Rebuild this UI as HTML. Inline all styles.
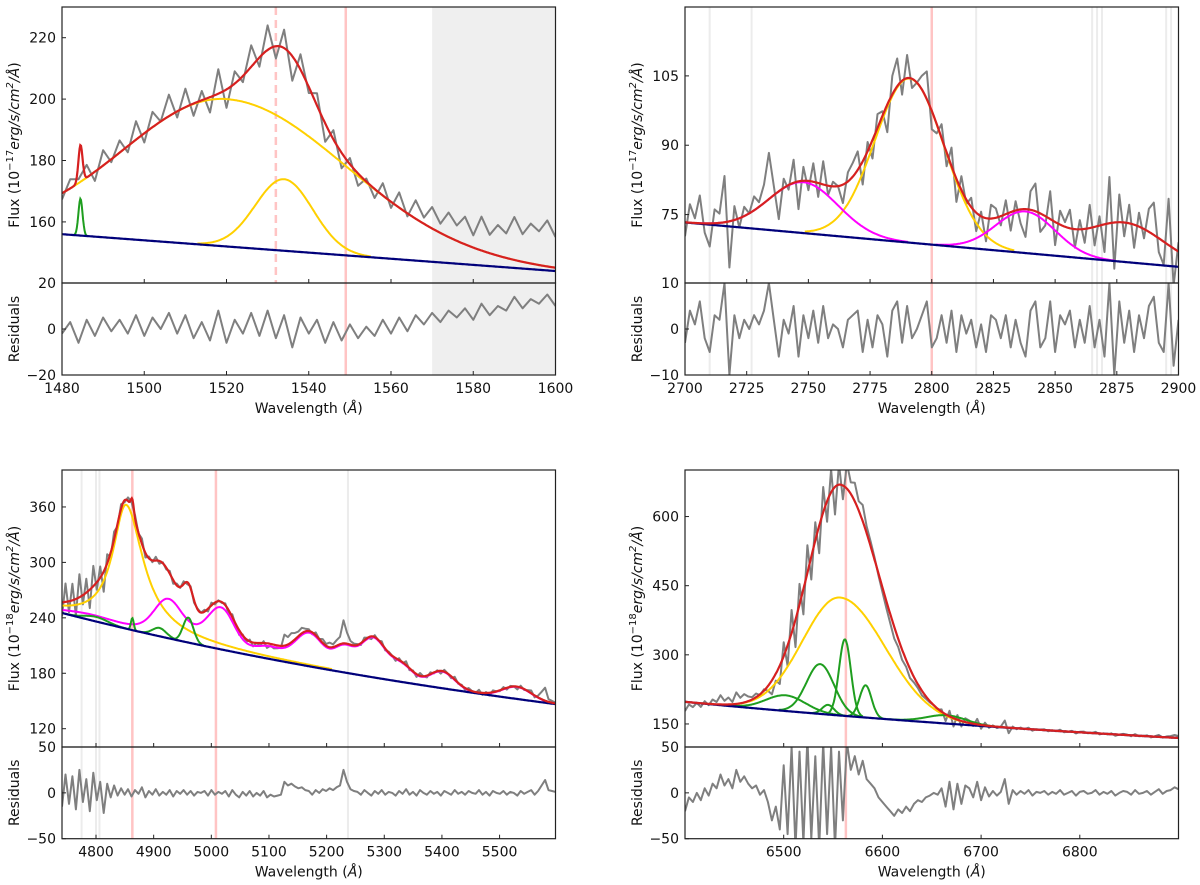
<!DOCTYPE html>
<html><head><meta charset="utf-8"><title>Spectral fits</title>
<style>html,body{margin:0;padding:0;background:#fff}svg{display:block;font-family:"DejaVu Sans","Liberation Sans",sans-serif}</style>
</head><body>
<svg id="fig" width="1200" height="885" viewBox="0 0 1200 885" xmlns="http://www.w3.org/2000/svg"></svg>
<script>
// ---------- Panel 1 (C IV region) ----------
const p1XRange=[1480,1600];
const p1Cont=[156,144];
const p1YellowCenters=[1520,1534];
const p1YellowAmps=[48,23.3];
const p1YellowSigL=[25,7];
const p1YellowSigR=[29,7];
const p1GreenCenters=[1484.5];
const p1GreenAmps=[12];
const p1GreenSigmas=[0.5];
const p1Residuals=[-2,3,-6,4,-3,5,-1,4,-2,6,-3,5,0,7,-2,6,-4,3,-5,8,-6,4,-2,7,-3,8,-4,6,-8,5,-2,4,-6,3,-5,2,-4,1,-3,4,-2,5,-1,6,2,7,3,8,5,9,4,11,6,10,8,14,9,13,11,15,10];
const p1XTicks=[1480,1500,1520,1540,1560,1580,1600];
const p1YTicks=[160,180,200,220];
const p1RTicks=[20,0,-20];
// ---------- Panel 2 (Mg II region) ----------
const p2XRange=[2700,2900];
const p2Cont=[73.3,63.7];
const p2YellowCenters=[2791];
const p2YellowAmps=[35.5];
const p2YellowSigmas=[14];
const p2MagentaCenters=[2748,2838];
const p2MagentaAmps=[11,9];
const p2MagentaSigmas=[14,12];
const p2HiddenCenters=[2878];
const p2HiddenAmps=[8.5];
const p2HiddenSigmas=[16];
const p2Residuals=[-3,4,1,6,-2,-5,3,2,10,-10,3,-2,2,0,3,1,4,10,2,-6,2,-1,5,-6,3,-2,4,-3,5,-2,1,0,-4,2,3,4,-5,2,-4,3,1,-6,4,6,-3,5,-2,0,3,6,-4,-2,3,-3,4,-5,3,-1,2,-4,1,-5,3,2,-2,3,-4,2,-3,-6,4,6,-4,-2,6,-5,3,1,4,-4,2,-3,5,-4,2,-6,10,-10,6,-3,4,-5,3,-2,5,7,-3,-5,10,-8,2];
const p2XTicks=[2700,2725,2750,2775,2800,2825,2850,2875,2900];
const p2YTicks=[75,90,105];
const p2RTicks=[10,0,-10];
// ---------- Panel 3 (H beta region) ----------
const p3XRange=[4741,5597];
const p3Cont=[208,5000,-3.1];
const p3YellowCenters=[4852];
const p3YellowAmps=[134];
const p3YellowGamL=[28];
const p3YellowGamR=[36];
const p3MagentaCenters=[4790,4924,4960,5018,5100,5170,5230,5280,5330,5400,5530];
const p3MagentaAmps=[6,30,15,36,12,36,25,42,18,18,13];
const p3MagentaSigmas=[45,22,60,22,25,25,18,22,20,22,25];
const p3GreenCenters=[4800,4863,4910,4960];
const p3GreenAmps=[5,13,9,27];
const p3GreenSigmas=[20,2.5,12,9];
const p3Residuals=[-15,20,-12,18,-18,25,-10,15,-20,22,-8,12,-22,10,-5,8,
-3,5,-2,4,-4,3,-1,6,-5,2,-2,4,-3,1,-2,3,-4,2,-1,3,-2,2,-3,1,0,
2,-3,3,-2,1,-1,2,-4,3,-2,-5,1,-3,2,-4,0,-3,2,-5,-2,-4,-3,
-2,12,8,10,7,5,6,3,
2,-2,3,0,4,2,5,3,6,8,
25,12,4,2,
1,-2,3,0,-3,2,-1,3,-2,1,0,-3,2,-1,4,-2,1,-3,3,0,-2,2,-1,1,-3,2,0,-2,3,-1,1,-2,2,0,-1,3,-2,1,-3,2,0,-1,2,-2,1,0,-3,2,-1,1,3,-2,2,8,14,3,
2,1];
const p3XTicks=[4800,4900,5000,5100,5200,5300,5400,5500];
const p3YTicks=[120,180,240,300,360];
const p3RTicks=[50,0,-50];
// ---------- Panel 4 (H alpha region) ----------
const p4XRange=[6400,6900];
const p4Cont=[198,6400,-6.7];
const p4YellowCenters=[6557];
const p4YellowAmps=[256];
const p4YellowSigL=[38];
const p4YellowSigR=[46];
const p4GreenCenters=[6502,6537,6545,6562,6583,6665];
const p4GreenAmps=[34,108,21,166,70,18];
const p4GreenSigmas=[20,14,6,6,6,20];
const p4HiddenCenters=[6557];
const p4HiddenAmps=[245];
const p4HiddenSigL=[29];
const p4HiddenSigR=[36];
const p4Residuals=[-20,-5,-10,0,-8,5,-3,10,5,20,8,15,5,
25,12,18,10,5,8,-2,3,-10,-30,-15,-40,
30,-45,50,-60,45,-55,60,-50,40,-60,55,-45,50,-60,45,-30,55,25,40,
20,35,15,10,5,-5,-10,
-15,-20,-25,-18,-22,-15,-20,-12,-8,-10,-5,-3,0,-2,
5,-15,12,-18,10,-12,8,5,-5,12,-8,6,-4,2,-3,1,
15,-12,3,-2,2,-1,3,-3,1,0,2,-2,1,-1,3,-2,0,2,-3,1,2,-1,0,3,-2,1,-1,2,-3,0,2,1,-2,3,-1,0,2,-2,1,4,-1,2,3,6,4];
const p4XTicks=[6500,6600,6700,6800];
const p4YTicks=[150,300,450,600];
const p4RTicks=[50,0,-50];

// ---------- helpers ----------
const NS='http://www.w3.org/2000/svg';
const svg=document.getElementById('fig');
function el(tag,attrs,parent){const e=document.createElementNS(NS,tag);for(const k in attrs)e.setAttribute(k,attrs[k]);(parent||svg).appendChild(e);return e;}
const gauss=(x,c,a,s)=>a*Math.exp(-(x-c)*(x-c)/(2*s*s));
const agauss=(x,c,a,sl,sr)=>gauss(x,c,a,x<c?sl:sr);
const alor=(x,c,a,gl,gr)=>{const g=x<c?gl:gr;return a/(1+((x-c)/g)*((x-c)/g));};
const linCont=(x,r,v)=>v[0]+(v[1]-v[0])*(x-r[0])/(r[1]-r[0]);
const powCont=(x,v)=>v[0]*Math.pow(x/v[1],v[2]);

const COL={gray:'#7f7f7f',red:'#d62020',yellow:'#ffd000',navy:'#00007a',mag:'#ff00ff',green:'#1f9e1f',pink:'#ffc4c4',lgray:'#ececec'};

function panel(cfg){
  const {id,L,R,T,MB,RB,xr,yr,rr,cont,comps,hidden,res,xt,yt,rt,exp,ylx,spans,vlines,pink,pinkDash}=cfg;
  const g=el('g',{});
  
  
  const sx=x=>L+(x-xr[0])/(xr[1]-xr[0])*(R-L);
  const sy=y=>MB-(y-yr[0])/(yr[1]-yr[0])*(MB-T);
  const sr=y=>RB-(y-rr[0])/(rr[1]-rr[0])*(RB-MB);
  const defs=el('defs',{},g);
  const c1=el('clipPath',{id:id+'-cm'},defs);el('rect',{x:L,y:T,width:R-L,height:MB-T},c1);
  const c2=el('clipPath',{id:id+'-cr'},defs);el('rect',{x:L,y:MB,width:R-L,height:RB-MB},c2);
  (spans||[]).forEach(s=>{const r=el('rect',{x:sx(s[0]),y:T,width:sx(s[1])-sx(s[0]),height:RB-T,fill:'#efefef'},g);
    
    });
  (vlines||[]).forEach(v=>{const l=el('line',{x1:sx(v),x2:sx(v),y1:T,y2:RB,stroke:COL.lgray,'stroke-width':2},g);
    
    });
  (pink||[]).forEach(v=>{const l=el('line',{x1:sx(v),x2:sx(v),y1:T,y2:RB,stroke:COL.pink,'stroke-width':2.5},g);
    
    });
  (pinkDash||[]).forEach(v=>{const l=el('line',{x1:sx(v),x2:sx(v),y1:T,y2:MB,stroke:COL.pink,'stroke-width':2.5,'stroke-dasharray':'8,5'},g);
    
    });
  const gm=el('g',{'clip-path':'url(#'+id+'-cm)'},g);
  
  
  const gr=el('g',{'clip-path':'url(#'+id+'-cr)'},g);
  
  
  const model=x=>{let v=cont(x);comps.forEach(c=>{if(c.inTotal!==false)v+=c.f(x);});(hidden||[]).forEach(f=>v+=f(x));return v;};
  const n=res.length;let dm='',dr='';
  for(let i=0;i<n;i++){const x=xr[0]+i*(xr[1]-xr[0])/(n-1);const d=model(x)+res[i];
    dm+=(i?'L':'M')+sx(x).toFixed(1)+','+sy(d).toFixed(1);
    dr+=(i?'L':'M')+sx(x).toFixed(1)+','+sr(res[i]).toFixed(1);}
  let p=el('path',{d:dm,fill:'none',stroke:COL.gray,'stroke-width':2,'stroke-linejoin':'round'},gm);
  
  
  p=el('path',{d:dr,fill:'none',stroke:COL.gray,'stroke-width':2,'stroke-linejoin':'round'},gr);
  
  
  const N=700;
  comps.forEach(c=>{let d='',on=false;
    for(let i=0;i<=N;i++){const x=xr[0]+i*(xr[1]-xr[0])/N;const v=c.f(x);
      if(v>c.amp*0.01){d+=(on?'L':'M')+sx(x).toFixed(1)+','+sy(cont(x)+v).toFixed(1);on=true;}else on=false;}
    const q=el('path',{d:d,fill:'none',stroke:c.col,'stroke-width':2},gm);
    
    });
  let dc='',dt='';
  for(let i=0;i<=N;i++){const x=xr[0]+i*(xr[1]-xr[0])/N;
    dc+=(i?'L':'M')+sx(x).toFixed(1)+','+sy(cont(x)).toFixed(1);
    dt+=(i?'L':'M')+sx(x).toFixed(1)+','+sy(model(x)).toFixed(1);}
  p=el('path',{d:dc,fill:'none',stroke:COL.navy,'stroke-width':2.2},gm);
  
  
  p=el('path',{d:dt,fill:'none',stroke:COL.red,'stroke-width':2.2},gm);
  
  
  let f=el('rect',{x:L,y:T,width:R-L,height:MB-T,fill:'none',stroke:'#222','stroke-width':1.2},g);
  
  
  f=el('rect',{x:L,y:MB,width:R-L,height:RB-MB,fill:'none',stroke:'#222','stroke-width':1.2},g);
  
  
  xt.forEach(v=>{const X=sx(v);
    el('line',{x1:X,x2:X,y1:MB,y2:MB-4,stroke:'#222','stroke-width':1},g);
    el('line',{x1:X,x2:X,y1:RB,y2:RB-4,stroke:'#222','stroke-width':1},g);
    const t=el('text',{x:X,y:RB+18,'text-anchor':'middle','font-size':14,fill:'#111'},g);t.textContent=v;
    
    });
  yt.forEach(v=>{const Y=sy(v);
    el('line',{x1:L,x2:L+4,y1:Y,y2:Y,stroke:'#222','stroke-width':1},g);
    const t=el('text',{x:L-6,y:Y+5,'text-anchor':'end','font-size':14,fill:'#111'},g);t.textContent=v;
    
    });
  rt.forEach(v=>{const Y=sr(v);
    el('line',{x1:L,x2:L+4,y1:Y,y2:Y,stroke:'#222','stroke-width':1},g);
    const t=el('text',{x:L-6,y:Y+5,'text-anchor':'end','font-size':14,fill:'#111'},g);t.textContent=(v<0?'\u2212'+(-v):v);
    
    });
  let t=el('text',{x:(L+R)/2,y:RB+38,'text-anchor':'middle','font-size':14,fill:'#111'},g);
  t.innerHTML='Wavelength (<tspan font-style="italic">\u00c5</tspan>)';
  
  
  t=el('text',{x:0,y:0,'text-anchor':'middle','font-size':14,fill:'#111',transform:'translate('+(ylx)+','+((T+MB)/2)+') rotate(-90)'},g);
  t.innerHTML='Flux (10<tspan font-size="10" dy="-6">\u2212'+exp+'</tspan><tspan dy="6" font-style="italic">erg/s/cm</tspan><tspan font-size="10" dy="-6" font-style="italic">2</tspan><tspan dy="6" font-style="italic">/\u00c5</tspan>)';
  
  
  t=el('text',{x:0,y:0,'text-anchor':'middle','font-size':14,fill:'#111',transform:'translate('+(ylx)+','+((MB+RB)/2)+') rotate(-90)'},g);
  t.textContent='Residuals';
  
  
}

function gComps(C,A,S,col,name,inTotal){return C.map((c,i)=>({f:x=>gauss(x,c,A[i],S[i]),amp:A[i],col:col,name:name,inTotal:inTotal}));}

panel({id:'panel-civ',L:62,R:555.5,T:7,MB:283,RB:375,xr:p1XRange,yr:[140.1,230],rr:[-20,20],
  cont:x=>linCont(x,p1XRange,p1Cont),
  comps:[...p1YellowCenters.map((c,i)=>({f:x=>agauss(x,c,p1YellowAmps[i],p1YellowSigL[i],p1YellowSigR[i]),amp:p1YellowAmps[i],col:COL.yellow,name:'broad-component'})),
         ...gComps(p1GreenCenters,p1GreenAmps,p1GreenSigmas,COL.green,'narrow-component')],
  res:p1Residuals,xt:p1XTicks,yt:p1YTicks,rt:p1RTicks,exp:17,ylx:19,spans:[[1570,1600]],pink:[1549],pinkDash:[1532]});
panel({id:'panel-mgii',L:685,R:1178.5,T:7,MB:283,RB:375,xr:p2XRange,yr:[60.2,119.9],rr:[-10,10],
  cont:x=>linCont(x,p2XRange,p2Cont),
  comps:[...gComps(p2YellowCenters,p2YellowAmps,p2YellowSigmas,COL.yellow,'broad-component'),
         ...gComps(p2MagentaCenters,p2MagentaAmps,p2MagentaSigmas,COL.mag,'feii-component')],
  hidden:p2HiddenCenters.map((c,i)=>x=>gauss(x,c,p2HiddenAmps[i],p2HiddenSigmas[i])),
  res:p2Residuals,xt:p2XTicks,yt:p2YTicks,rt:p2RTicks,exp:17,ylx:642,vlines:[2710,2727,2818,2865,2867,2869,2895,2897],pink:[2800]});
panel({id:'panel-hbeta',L:62,R:555.5,T:470,MB:747,RB:838.7,xr:p3XRange,yr:[100.2,400],rr:[-50,50],
  cont:x=>powCont(x,p3Cont),
  comps:[...p3YellowCenters.map((c,i)=>({f:x=>alor(x,c,p3YellowAmps[i],p3YellowGamL[i],p3YellowGamR[i]),amp:p3YellowAmps[i],col:COL.yellow,name:'broad-component'})),
         {f:x=>{let v=0;p3MagentaCenters.forEach((c,i)=>v+=gauss(x,c,p3MagentaAmps[i],p3MagentaSigmas[i]));return v;},amp:20,col:COL.mag,name:'feii-template'},
         ...gComps(p3GreenCenters,p3GreenAmps,p3GreenSigmas,COL.green,'narrow-component')],
  res:p3Residuals,xt:p3XTicks,yt:p3YTicks,rt:p3RTicks,exp:18,ylx:19,vlines:[4775,4800,4806,5237],pink:[4863,5008]});
panel({id:'panel-halpha',L:685,R:1178.5,T:470,MB:747,RB:838.7,xr:p4XRange,yr:[100,701],rr:[-50,50],
  cont:x=>powCont(x,p4Cont),
  comps:[...p4YellowCenters.map((c,i)=>({f:x=>agauss(x,c,p4YellowAmps[i],p4YellowSigL[i],p4YellowSigR[i]),amp:p4YellowAmps[i],col:COL.yellow,name:'broad-component'})),
         ...gComps(p4GreenCenters,p4GreenAmps,p4GreenSigmas,COL.green,'narrow-component',false)],
  hidden:p4HiddenCenters.map((c,i)=>x=>agauss(x,c,p4HiddenAmps[i],p4HiddenSigL[i],p4HiddenSigR[i])),
  res:p4Residuals,xt:p4XTicks,yt:p4YTicks,rt:p4RTicks,exp:18,ylx:642,pink:[6563]});
</script>
</body></html>
